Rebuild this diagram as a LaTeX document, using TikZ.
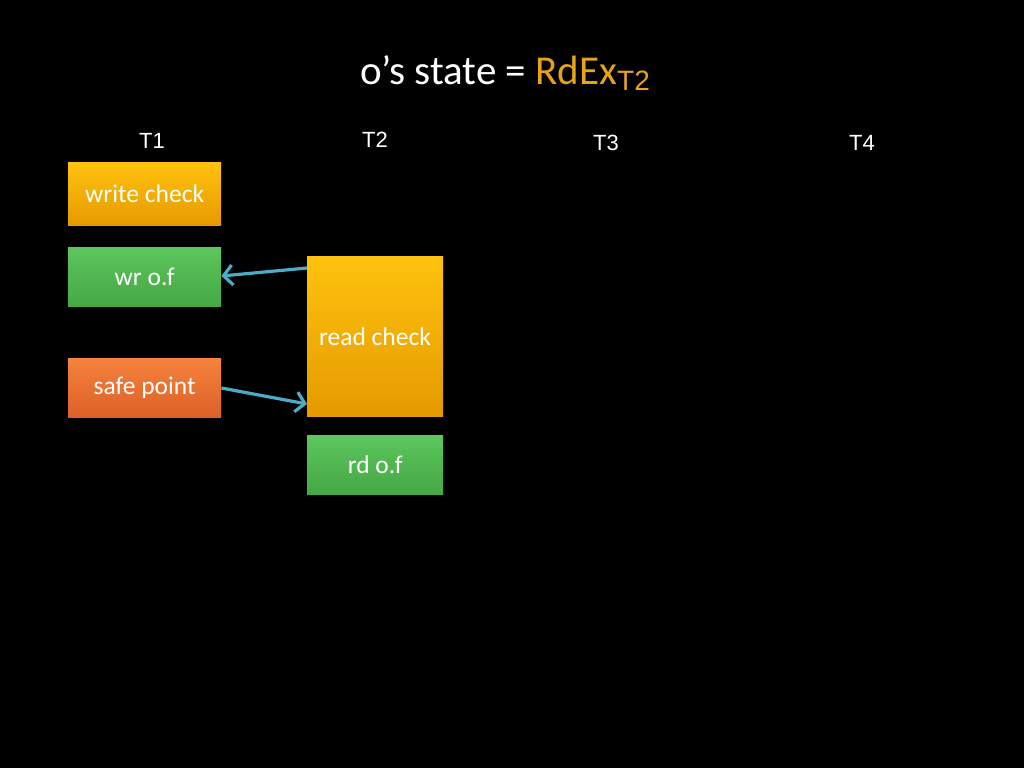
\documentclass[tikz,border=0pt]{standalone}
\usepackage{fontspec}
\setmainfont{Carlito}
\newfontfamily\arialf{Liberation Sans}
\usetikzlibrary{arrows.meta}
\definecolor{gold}{HTML}{E8A317}
\definecolor{orA}{HTML}{FFC20E}
\definecolor{orB}{HTML}{E59A00}
\definecolor{grA}{HTML}{5CC65C}
\definecolor{grB}{HTML}{45A845}
\definecolor{rdA}{HTML}{F6823E}
\definecolor{rdB}{HTML}{DC6026}
\definecolor{arrowblue}{HTML}{4BACC6}
\tikzset{
  box/.style={draw=none, inner sep=0pt, text=white, font=\fontsize{25.5}{30}\selectfont, anchor=north west},
  orangebox/.style={box, top color=orA, bottom color=orB},
  greenbox/.style={box, top color=grA, bottom color=grB},
  redbox/.style={box, top color=rdA, bottom color=rdB},
  head/.style={text=white, font=\arialf\fontsize{22}{26}\selectfont},
  conn/.style={draw=arrowblue, line width=3.2pt, -{Straight Barb[length=9pt, width=20pt, line width=3.2pt]}}
}
\begin{document}
\begin{tikzpicture}[x=1pt, y=-1pt]
\fill[black] (0,0) rectangle (1024,768);
\useasboundingbox (0,0) rectangle (1024,768);
\node[text=white, font=\fontsize{41}{46}\selectfont] (title) at (505,73)
  {o’s state = \textcolor{gold}{RdEx\raisebox{-0.3ex}{\arialf\fontsize{28}{32}\selectfont T2}}};
\node[head] (t1) at (152,141) {T1};
\node[head] (t2) at (375,140) {T2};
\node[head] (t3) at (606,143) {T3};
\node[head] (t4) at (862,143) {T4};
\node[orangebox, minimum width=153pt, minimum height=63pt] (wc) at (68,162) {write check};
\node[greenbox, minimum width=153pt, minimum height=59pt] (wr) at (68,247) {wr o.f};
\node[redbox, minimum width=153pt, minimum height=59pt] (sp) at (68,358) {safe point};
\node[orangebox, minimum width=136pt, minimum height=160pt] (rc) at (307,256) {};
\node[text=white, font=\fontsize{25.5}{30}\selectfont] (rclabel) at (375,337) {read check};
\node[greenbox, minimum width=136pt, minimum height=59pt] (rd) at (307,435) {rd o.f};
\draw[conn] (rc.west |- 0,268) -- (wr.east |- 0,276);
\draw[conn] (sp.east |- 0,388) -- (rc.west |- 0,404);
\end{tikzpicture}
\end{document}
